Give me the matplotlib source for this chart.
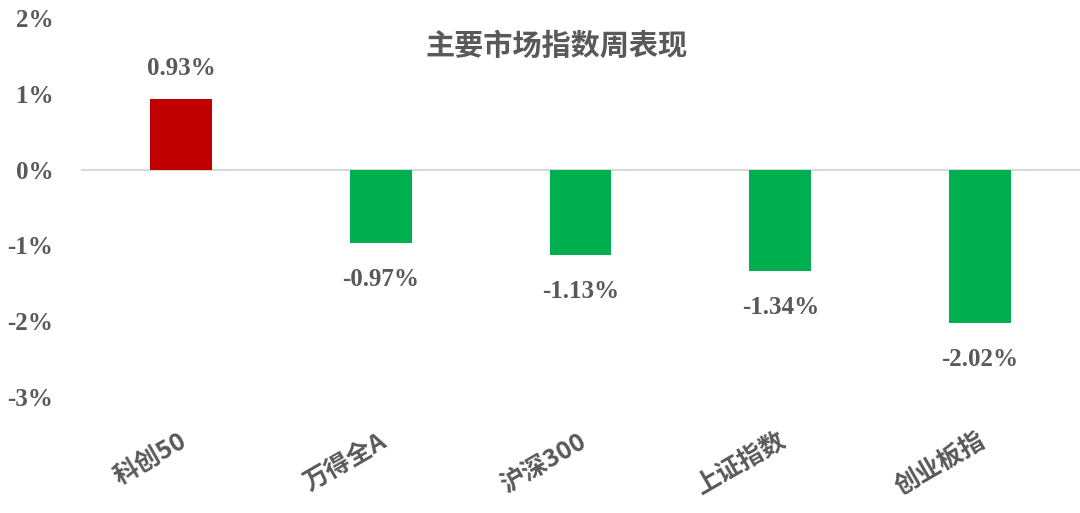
import matplotlib
matplotlib.use('Agg')
import matplotlib.pyplot as plt

plt.rcParams['font.family'] = ['Liberation Serif', 'Noto Sans CJK SC', 'DejaVu Sans']

categories = ['科创50', '万得全A', '沪深300', '上证指数', '创业板指']
values = [0.93, -0.97, -1.13, -1.34, -2.02]
labels = ['0.93%', '-0.97%', '-1.13%', '-1.34%', '-2.02%']
yticks = [2, 1, 0, -1, -2, -3]

GREY = '#595959'
RED = '#C00000'
GREEN = '#00B050'
CJK = ['Noto Sans CJK SC', 'DejaVu Sans']

fig = plt.figure(figsize=(10.8, 5.13), dpi=100)
ax = fig.add_axes([0.075, 0.226, 0.925, 0.739])

x = range(len(categories))
colors = [RED if v > 0 else GREEN for v in values]
ax.bar(x, values, width=0.31, color=colors, zorder=2)
ax.axhline(0, color='#D9D9D9', lw=1.5, zorder=1)

ax.set_xlim(-0.5, len(categories) - 0.5)
ax.set_ylim(-3, 2)
ax.set_yticks(yticks)
ax.set_yticklabels([f'{t}%' for t in yticks], fontsize=18, fontweight='bold', color=GREY)
ax.tick_params(axis='y', length=0, pad=20)
ax.set_xticks([])
for s in ax.spines.values():
    s.set_visible(False)

# 数值标签
for i, (v, lab) in enumerate(zip(values, labels)):
    off = 0.4 if v > 0 else -0.48
    ax.text(i, v + off, lab, ha='center', va='center', fontsize=18,
            fontweight='bold', color=GREY)

# 倾斜的分类标签
for i, c in enumerate(categories):
    ax.text(i - 0.01, -3.42, c, ha='right', va='top', rotation=30,
            rotation_mode='anchor', fontsize=18, fontweight='bold', color=GREY,
            family=CJK)

fig.text(0.515, 1 - 46 / 513, '主要市场指数周表现', ha='center', va='center',
         fontsize=21, fontweight='bold', color=GREY, family=CJK)

fig.savefig('out.png', dpi=100)
